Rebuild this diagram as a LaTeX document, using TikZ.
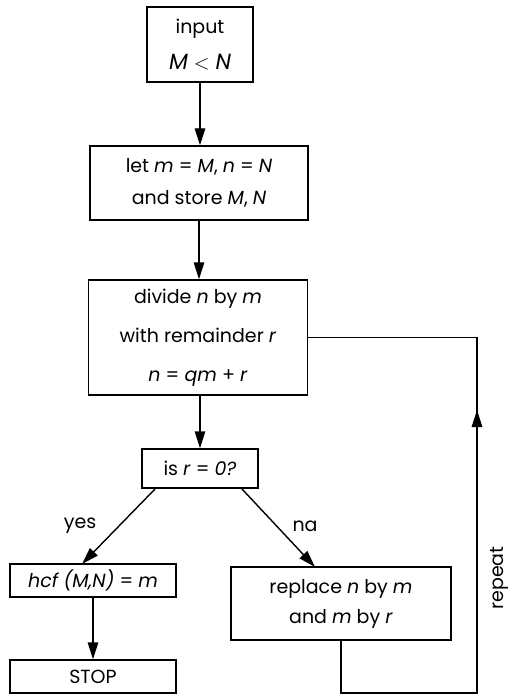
\documentclass[tikz,border=0pt]{standalone}
\usepackage{fontspec}
\setmainfont{Poppins}
\usetikzlibrary{arrows.meta}
\tikzset{
  box/.style={draw, line width=1.4pt, inner sep=0pt, align=center, font=\fontsize{19}{34}\selectfont},
  conn/.style={line width=1.4pt, -{Triangle[length=17pt,width=10.5pt]}},
  line/.style={line width=1.4pt},
  lbl/.style={inner sep=0pt, font=\fontsize{19}{22}\selectfont}
}
\newcommand{\vi}[1]{\textit{#1}}
\begin{document}
\begin{tikzpicture}[x=1pt,y=-1pt]
\useasboundingbox (0,0) rectangle (509,695);
\node[box, minimum width=106pt, minimum height=75pt, font=\fontsize{19}{36}\selectfont] (b1) at (200,44.5) {input\\{\fontsize{22}{36}\selectfont\vi{M} $<$ \vi{N}}};
\node[box, minimum width=218pt, minimum height=74pt, font=\fontsize{19}{32}\selectfont] (b2) at (199,183) {let \vi{m} = \vi{M}, \vi{n} = \vi{N}\\and store \vi{M}, \vi{N}};
\node[box, minimum width=219pt, minimum height=115pt, font=\fontsize{19}{39}\selectfont] (b3) at (198,337.5) {divide \vi{n} by \vi{m}\\with remainder \vi{r}\\\vi{n} = \vi{qm} + \vi{r}};
\node[box, minimum width=116pt, minimum height=39pt] (dec) at (200,468.5) {is \vi{r} = \vi{0?}};
\node[box, minimum width=166pt, minimum height=33pt] (hcf) at (93,580.5) {\vi{hcf (M,N)} = \vi{m}};
\node[box, minimum width=166pt, minimum height=33pt] (stop) at (93,676.5) {STOP};
\node[box, minimum width=220pt, minimum height=73pt, font=\fontsize{19}{30}\selectfont] (rep) at (341,603.5) {replace \vi{n} by \vi{m}\\and \vi{m} by \vi{r}};
\node[lbl] (yes) at (80,526) {yes};
\node[lbl] (na) at (305,526) {na};
\node[lbl, rotate=90, anchor=base] (repeat) at (503,578) {repeat};
\coordinate (ybeg) at (155,489);
\coordinate (yend) at (82,564);
\coordinate (nbeg) at (242,489);
\coordinate (nend) at (315,567);
\coordinate (lb) at (341,693);
\coordinate (rb) at (477,693);
\coordinate (rm) at (477,410);
\coordinate (rt) at (477,337.5);
\draw[conn] (b1.south) -- (b2.north -| b1.south);
\draw[conn] (b2.south) -- (b3.north -| b2.south);
\draw[conn] (b3.south -| dec.north) -- (dec.north);
\draw[conn] (ybeg) -- (yend);
\draw[conn] (nbeg) -- (nend);
\draw[conn] (hcf.south) -- (stop.north);
\draw[line] (rep.south) -- (lb) -- (rb) -- (rm);
\draw[conn] (rb) -- (rm);
\draw[line] (rm) -- (rt) -- (b3.east);
\end{tikzpicture}
\end{document}
